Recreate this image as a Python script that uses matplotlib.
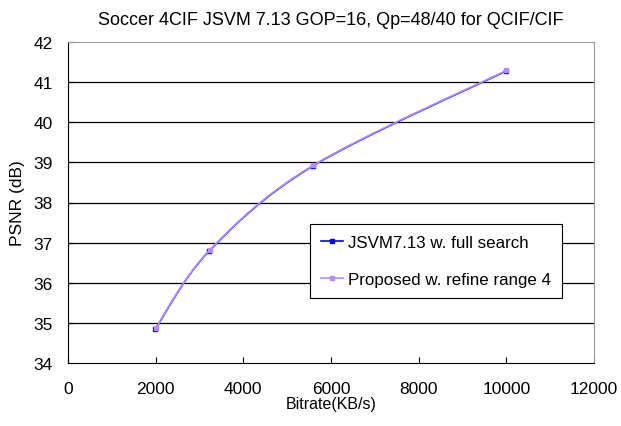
import matplotlib
matplotlib.use("Agg")
import matplotlib.pyplot as plt
from matplotlib.path import Path
from matplotlib.patches import PathPatch
from matplotlib.lines import Line2D

plt.rcParams['font.family'] = ['Liberation Sans', 'DejaVu Sans']

# bitrate (KB/s) and PSNR (dB)
rate_jsvm = [1990, 3220, 5600, 10000]
psnr_jsvm = [34.84, 36.79, 38.92, 41.28]
rate_prop = [2000, 3230, 5600, 10000]
psnr_prop = [34.87, 36.81, 38.93, 41.29]

label_jsvm = "JSVM7.13 w. full search"
label_prop = "Proposed w. refine range 4"
blue = "#0000FF"
purple = "#B48CFF"


def smooth_path(xs, ys):
    # excel style smoothed line: cubic bezier with 1/6 tangents
    pts = list(zip(xs, ys))
    n = len(pts)
    verts = [pts[0]]
    codes = [Path.MOVETO]
    for i in range(n - 1):
        p0 = pts[i - 1] if i > 0 else pts[i]
        p1 = pts[i]
        p2 = pts[i + 1]
        p3 = pts[i + 2] if i + 2 < n else pts[i + 1]
        c1 = (p1[0] + (p2[0] - p0[0]) / 6, p1[1] + (p2[1] - p0[1]) / 6)
        c2 = (p2[0] - (p3[0] - p1[0]) / 6, p2[1] - (p3[1] - p1[1]) / 6)
        verts += [c1, c2, p2]
        codes += [Path.CURVE4] * 3
    return Path(verts, codes)


fig = plt.figure(figsize=(6.21, 4.27), dpi=100)
ax = fig.add_axes([68 / 621, 63 / 427, 526 / 621, 321 / 427])

for v in range(35, 42):
    ax.axhline(v, color="black", lw=0.9, zorder=1)

ax.add_patch(PathPatch(smooth_path(rate_jsvm, psnr_jsvm), fill=False,
                       edgecolor=blue, lw=1.2, zorder=3))
ax.plot(rate_jsvm, psnr_jsvm, ls="none", marker="s", ms=3.5, color=blue, zorder=4)
ax.add_patch(PathPatch(smooth_path(rate_prop, psnr_prop), fill=False,
                       edgecolor=purple, lw=1.2, zorder=5))
ax.plot(rate_prop, psnr_prop, ls="none", marker="s", ms=3.5, color=purple, zorder=6)

ax.set_xlim(0, 12000)
ax.set_ylim(34, 42)
ax.set_xticks(range(0, 12001, 2000))
ax.set_yticks(range(34, 43))
ax.tick_params(axis="x", direction="in", length=4, pad=13, labelsize=12.5)
ax.tick_params(axis="y", direction="in", length=4, pad=11, labelsize=12.5)

for s in ["top", "right"]:
    ax.spines[s].set_color("#999999")
ax.spines["left"].set_color("black")
ax.spines["bottom"].set_color("black")

ax.set_title("Soccer 4CIF JSVM 7.13 GOP=16, Qp=48/40 for QCIF/CIF",
             fontsize=13, pad=13)
ax.set_xlabel("Bitrate(KB/s)", fontsize=11.5, labelpad=0)
ax.set_ylabel("PSNR (dB)", fontsize=12.5, labelpad=6)

handles = [
    Line2D([], [], color=blue, marker="s", ms=3, lw=1.2),
    Line2D([], [], color=purple, marker="s", ms=3, lw=1.2),
]
leg = ax.legend(handles, [label_jsvm, label_prop], loc="upper left",
                bbox_to_anchor=(242 / 526, 139 / 321), fontsize=12.2,
                fancybox=False, framealpha=1, edgecolor="black",
                handlelength=1.3, handletextpad=0.3, labelspacing=1.3,
                borderpad=0.65, borderaxespad=0)
leg.get_frame().set_linewidth(0.8)
leg.set_zorder(10)

fig.savefig("out.png", dpi=100)
